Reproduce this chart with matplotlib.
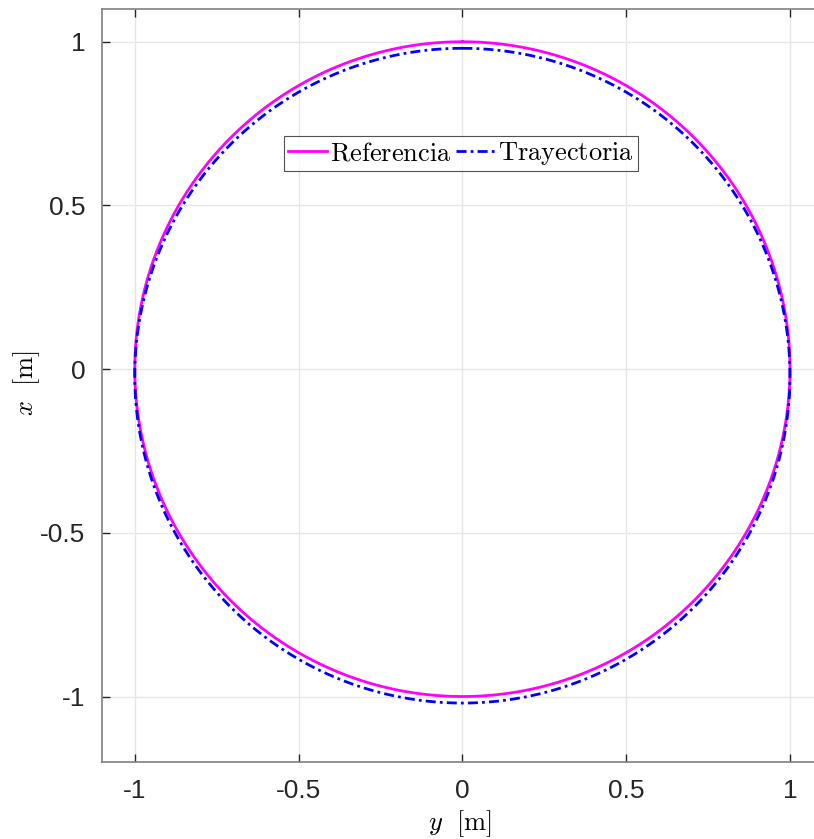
import matplotlib
matplotlib.use("Agg")
import matplotlib.pyplot as plt
import numpy as np

# Circular reference and tracked trajectory (horizontal axis: y, vertical axis: x)
ref_radius = 1.0
ref_center = (0.0, 0.0)
traj_radius = 1.0
traj_center = (0.0, -0.02)

xticks = [-1, -0.5, 0, 0.5, 1]
yticks = [-1, -0.5, 0, 0.5, 1]
xtick_labels = ["-1", "-0.5", "0", "0.5", "1"]
ytick_labels = ["-1", "-0.5", "0", "0.5", "1"]

plt.rcParams["font.family"] = ["Liberation Sans", "DejaVu Sans"]
plt.rcParams["mathtext.fontset"] = "cm"

t = np.linspace(0, 2 * np.pi, 721)
ref_y = ref_center[0] + ref_radius * np.sin(t)
ref_x = ref_center[1] + ref_radius * np.cos(t)
traj_y = traj_center[0] + traj_radius * np.sin(t)
traj_x = traj_center[1] + traj_radius * np.cos(t)

fig = plt.figure(figsize=(8.14, 8.39), dpi=100)
W, H = 814, 839
# axes right edge runs slightly past the figure border
ax = fig.add_axes([102 / W, 1 - 762 / H, (822.75 - 102) / W, (762 - 9) / H])

ax.plot(ref_y, ref_x, color="#ff00ff", lw=2.0, label=r"$\mathrm{Referencia}$")
ax.plot(traj_y, traj_x, color="#0000ff", lw=2.0, dashes=(3.6, 1.5, 1.0, 1.5),
        label=r"$\mathrm{Trayectoria}$")

ax.set_xlim(-1.1, 1.1)
ax.set_ylim(-1.2, 1.1)
ax.set_xticks(xticks, xtick_labels)
ax.set_yticks(yticks, ytick_labels)
ax.tick_params(direction="in", length=6, width=1, color="#262626", labelsize=19,
               labelcolor="#262626", top=True, right=True, pad=12)
ax.grid(True, color="#e6e6e6", lw=1)
ax.set_axisbelow(True)
for sp in ax.spines.values():
    sp.set_color("#808080")
    sp.set_linewidth(1.2)
ax.spines["right"].set_visible(False)

ax.set_xlabel(r"$y\ \ \mathrm{[m]}$", fontsize=19)
ax.set_ylabel(r"$x\ \ \mathrm{[m]}$", fontsize=19)
ax.xaxis.set_label_coords(0.497, -0.062)
ax.yaxis.set_label_coords(-0.083, 0.503)

leg = ax.legend(loc="upper center", bbox_to_anchor=(0.498, 0.831), ncol=2,
                fontsize=19, frameon=True, fancybox=False, handlelength=1.5,
                handletextpad=0.08, columnspacing=0.2, borderpad=0.15,
                borderaxespad=0)
leg.get_frame().set_edgecolor("#262626")
leg.get_frame().set_linewidth(0.8)

fig.savefig("out.png", dpi=100)
